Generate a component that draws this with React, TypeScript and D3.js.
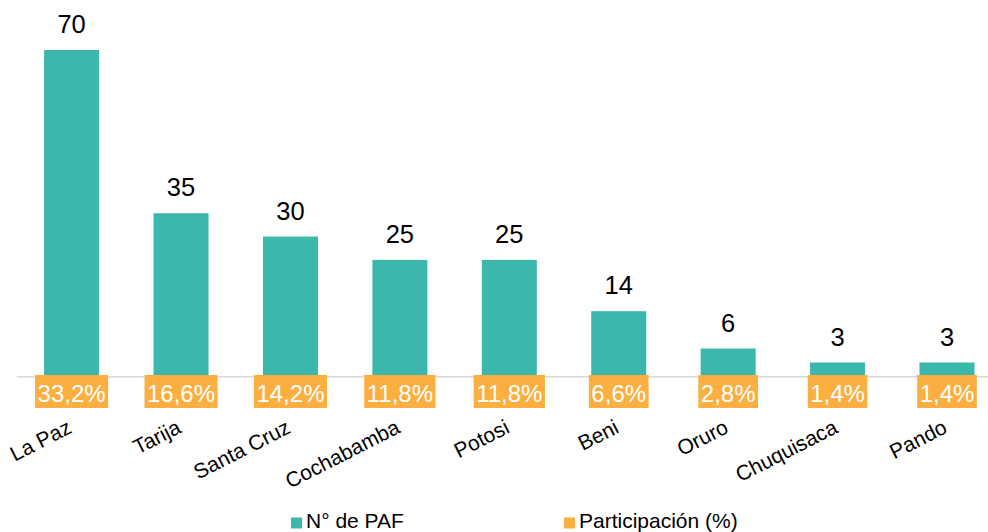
import React from "react";
import * as d3 from "d3";

const categories = ["La Paz", "Tarija", "Santa Cruz", "Cochabamba", "Potosi", "Beni", "Oruro", "Chuquisaca", "Pando"];
const pafValues = [70, 35, 30, 25, 25, 14, 6, 3, 3];
const shareLabels = ["33,2%", "16,6%", "14,2%", "11,8%", "11,8%", "6,6%", "2,8%", "1,4%", "1,4%"];
const legendLabels = ["N° de PAF", "Participación (%)"];

const W = 988;
const H = 532;
const TEAL = "#3cb7ab";
const ORANGE = "#fbaf41";
const FONT = "Arial, 'Liberation Sans', sans-serif";

function measure(text: string, size: number): number {
  const c = document.createElement("canvas");
  const ctx = c.getContext("2d");
  if (!ctx) return text.length * size * 0.55;
  ctx.font = `${size}px ${FONT}`;
  return ctx.measureText(text).width;
}

export default function App() {
  const x = d3
    .scaleBand<string>()
    .domain(categories)
    .range([16.9, 1001.7])
    .paddingInner(0.497)
    .paddingOuter(0.2485);
  const y = d3.scaleLinear().domain([0, 70]).range([376.5, 50]);
  const bw = x.bandwidth();

  return (
    <svg
      width={W}
      height={H}
      style={{ position: "absolute", left: 0, top: 0, background: "#fff" }}
      fontFamily={FONT}
    >
      {categories.map((c, i) => {
        const x0 = x(c) as number;
        return (
          <rect key={c} x={x0} y={y(pafValues[i])} width={bw} height={y(0) - y(pafValues[i])} fill={TEAL} />
        );
      })}
      <line x1={16.7} x2={W} y1={y(0) + 0.3} y2={y(0) + 0.3} stroke="#d9d9d9" strokeWidth={1.5} />
      {categories.map((c, i) => {
        const cx = (x(c) as number) + bw / 2;
        return (
          <text key={c} x={cx} y={y(pafValues[i]) - 17} textAnchor="middle" fontSize={25.5} fill="#000">
            {pafValues[i]}
          </text>
        );
      })}
      {categories.map((c, i) => {
        const cx = (x(c) as number) + bw / 2;
        const tw = measure(shareLabels[i], 24);
        const boxW = tw + 5;
        return (
          <g key={c}>
            <rect x={cx - boxW / 2} y={375} width={boxW} height={33} fill={ORANGE} />
            <text x={cx} y={401.5} textAnchor="middle" fontSize={24} fill="#fff">
              {shareLabels[i]}
            </text>
          </g>
        );
      })}
      {categories.map((c) => {
        const cx = (x(c) as number) + bw / 2 + 1.5;
        return (
          <text
            key={c}
            transform={`translate(${cx},432) rotate(-27)`}
            textAnchor="end"
            fontSize={21}
            fill="#000"
          >
            {c}
          </text>
        );
      })}
      <g>
        <rect x={291} y={517.5} width={11} height={11} fill={TEAL} />
        <text x={306} y={528.3} fontSize={21} fill="#000">
          {legendLabels[0]}
        </text>
        <rect x={564} y={517.5} width={11} height={11} fill={ORANGE} />
        <text x={579} y={528.3} fontSize={21} fill="#000">
          {legendLabels[1]}
        </text>
      </g>
    </svg>
  );
}
